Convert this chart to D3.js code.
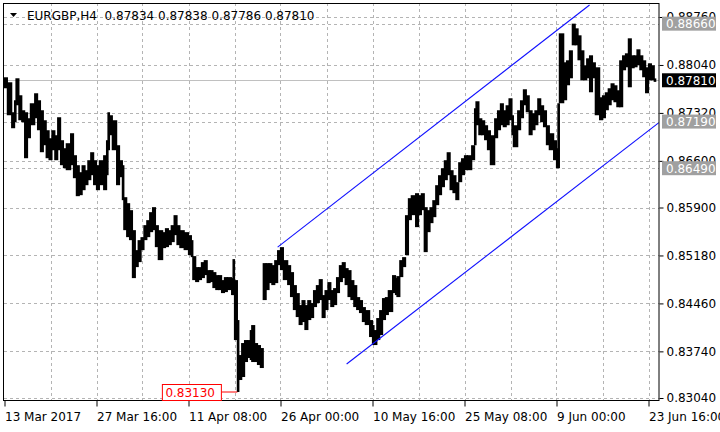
<!DOCTYPE html>
<html>
<head>
<meta charset="utf-8">
<script src="https://cdn.jsdelivr.net/npm/d3@7"></script>
<style>
    body { margin: 0; background: #fff; }
    svg text { font-family: "DejaVu Sans", sans-serif; font-size: 12px; }
</style>
</head>
<body>
<svg id="chart" width="720" height="432"></svg>
<script>
// H4 bars, sampled (bar number counted from 13 Mar 2017 00:00)
var bars = [0,2,5,7,8,10,12,14,16,18,
    21,23,25,27,29,31,33,35,37,39,
    41,43,46,48,50,52,54,56,58,60,
    62,64,66,69,71,72,73,75,78,80,
    82,83,85,87,89,91,93,95,97,99,
    101,103,105,107,110,112,114,116,118,120,
    122,125,128,130,131,133,135,137,139,141,
    143,145,147,149,151,153,155,158,159,160,
    162,163,165,167,169,171,172,174,176,178,
    180,182,184,186,188,190,192,194,197,199,
    201,203,205,207,209,211,213,215,217,219,
    221,223,225,227,229,231,233,235,237,239,
    241,243,245,247,249,251,254,256,257,259,
    261,263,265,267,270,272,273,275,277,279,
    281,283,286,288,290,292,294,296,298,300,
    302,304,306,308,310,312,314,316,318,320,
    322,325,327,328,330,332,334,336,338,341,
    343,345,347,349,351,353,354,357,359,361,
    363,365,367,369,371,373,375,377,379,382,
    384,385,386,389,391,393,395,397,399,401,
    403,405,407,409,411,414,416,418,420,422,
    424,426,428,430,432,434,436,438,440,442,
    444,446,448,450,452];

var highs = [0.87855,0.87780,0.87330,0.87510,0.87840,0.87585,0.87360,0.87330,0.87240,0.87465,
    0.87615,0.87510,0.87360,0.87210,0.87060,0.86940,0.87060,0.86985,0.87255,0.86910,
    0.86790,0.86865,0.87015,0.86685,0.86535,0.86430,0.86535,0.86460,0.86610,0.86730,
    0.86610,0.86535,0.86610,0.86685,0.86910,0.87330,0.87285,0.87210,0.86835,0.86610,
    0.86535,0.86055,0.85965,0.85860,0.85560,0.85260,0.85410,0.85455,0.85635,0.85710,
    0.85830,0.85905,0.85635,0.85560,0.85530,0.85590,0.85560,0.85635,0.85785,0.85635,
    0.85560,0.85530,0.85485,0.85410,0.85170,0.85005,0.85005,0.85080,0.85110,0.84960,
    0.84960,0.84930,0.84885,0.84885,0.84810,0.84855,0.84855,0.84840,0.85125,0.84810,
    0.84210,0.83685,0.83865,0.83910,0.83910,0.84060,0.84135,0.83865,0.83835,0.83790,
    0.85065,0.85065,0.85065,0.85035,0.85110,0.85260,0.85305,0.85110,0.85035,0.84930,
    0.84735,0.84615,0.84435,0.84510,0.84435,0.84510,0.84465,0.84660,0.84735,0.84825,
    0.84585,0.84660,0.84780,0.84660,0.84690,0.84855,0.85035,0.85080,0.84990,0.84960,
    0.84810,0.84735,0.84555,0.84510,0.84405,0.84360,0.84210,0.84135,0.84060,0.84240,
    0.84360,0.84540,0.84555,0.84660,0.84885,0.84840,0.84870,0.85110,0.85155,0.85785,
    0.86040,0.86085,0.86115,0.86085,0.86115,0.85905,0.85860,0.85905,0.86010,0.86235,
    0.86385,0.86490,0.86610,0.86730,0.86460,0.86385,0.86280,0.86580,0.86640,0.86685,
    0.86685,0.86835,0.87390,0.87495,0.87240,0.87210,0.87135,0.87060,0.86985,0.87240,
    0.87360,0.87465,0.87360,0.87435,0.87540,0.87285,0.87135,0.87360,0.87510,0.87675,
    0.87585,0.87360,0.87315,0.87360,0.87540,0.87435,0.87360,0.87135,0.87015,0.86910,
    0.86790,0.87465,0.88515,0.88080,0.88110,0.88260,0.88660,0.88590,0.88485,0.88260,
    0.88035,0.88140,0.88185,0.88080,0.88005,0.87555,0.87585,0.87630,0.87690,0.87765,
    0.87735,0.87660,0.88110,0.88185,0.88215,0.88440,0.88185,0.88185,0.88275,0.88185,
    0.88110,0.88005,0.88065,0.88035,0.87838];

var lows = [0.87690,0.87285,0.87090,0.87180,0.87435,0.87210,0.87180,0.86640,0.86940,0.87135,
    0.87240,0.87060,0.86730,0.86835,0.86640,0.86610,0.86760,0.86610,0.86760,0.86535,
    0.86490,0.86460,0.86535,0.86340,0.86070,0.86085,0.86160,0.86235,0.86310,0.86385,
    0.86235,0.86160,0.86235,0.86160,0.86385,0.86760,0.86985,0.86760,0.86235,0.86355,
    0.86010,0.85560,0.85455,0.85410,0.84840,0.85005,0.85080,0.85260,0.85410,0.85455,
    0.85530,0.85560,0.85305,0.85110,0.85290,0.85305,0.85335,0.85380,0.85485,0.85335,
    0.85290,0.85260,0.85185,0.85155,0.84810,0.84780,0.84810,0.84840,0.84885,0.84765,
    0.84780,0.84690,0.84660,0.84660,0.84615,0.84630,0.84660,0.84585,0.84585,0.83910,
    0.83130,0.83310,0.83355,0.83580,0.83640,0.83610,0.83580,0.83580,0.83535,0.83490,
    0.84510,0.84660,0.84765,0.84735,0.84765,0.85035,0.84960,0.84810,0.84735,0.84555,
    0.84360,0.84255,0.84135,0.84180,0.84060,0.84210,0.84240,0.84405,0.84465,0.84510,
    0.84240,0.84360,0.84510,0.84405,0.84435,0.84615,0.84780,0.84840,0.84735,0.84555,
    0.84510,0.84405,0.84360,0.84315,0.84180,0.84135,0.83955,0.83835,0.83835,0.83910,
    0.83985,0.84210,0.84285,0.84330,0.84615,0.84585,0.84555,0.84855,0.85005,0.85185,
    0.85710,0.85785,0.85605,0.85785,0.85860,0.85230,0.85530,0.85665,0.85755,0.85935,
    0.86085,0.86205,0.86310,0.86385,0.86160,0.86115,0.86010,0.86280,0.86385,0.86460,
    0.86460,0.86610,0.86835,0.87135,0.86985,0.86985,0.86910,0.86760,0.86535,0.86940,
    0.87060,0.87135,0.87105,0.87135,0.87210,0.86985,0.86805,0.87060,0.87240,0.87435,
    0.87330,0.86985,0.87060,0.87135,0.87285,0.87180,0.87105,0.86835,0.86760,0.86610,
    0.86490,0.86490,0.87465,0.87510,0.87735,0.87840,0.88335,0.88335,0.88110,0.87810,
    0.87810,0.87840,0.87630,0.87840,0.87285,0.87210,0.87240,0.87360,0.87435,0.87510,
    0.87480,0.87405,0.87405,0.87960,0.88005,0.87705,0.87990,0.88005,0.88035,0.87960,
    0.87855,0.87615,0.87810,0.87810,0.87786];

var priceTicks = [0.8304, 0.8374, 0.8446, 0.8518, 0.8590, 0.8660, 0.8732, 0.8804, 0.8876];
var timeTicks = [0, 64, 128, 192, 256, 320, 384, 448];
var timeLabels = ["13 Mar 2017", "27 Mar 16:00", "11 Apr 08:00", "26 Apr 00:00",
    "10 May 16:00", "25 May 08:00", "9 Jun 00:00", "23 Jun 16:00"];
var levelPrices = [0.8866, 0.8719, 0.8649];
var lastPrice = 0.8781;
var lowBar = 162, lowPrice = 0.8313;
var upperBars = [190, 407], upperPrices = [0.85305, 0.8894];
var lowerBars = [238, 455], lowerPrices = [0.8355, 0.8717];
var ohlc = [0.87834, 0.87838, 0.87786, 0.87810];

// plot box edges
var boxLeft = 4, boxTop = 3, boxRight = 659, boxBottom = 400;
var fmt = d3.format(".5f");

var svg = d3.select("#chart");

var xScale = d3.scaleLinear().domain([0, 448]).range([4.5, 648.5]);
var yScale = d3.scaleLinear().domain([0.8304, 0.8876]).range([398, 17]);

svg.append("defs").append("clipPath").attr("id", "plot")
    .append("rect")
    .attr("x", boxLeft).attr("y", boxTop)
    .attr("width", boxRight - boxLeft).attr("height", boxBottom - boxTop);

// grid
var grid = svg.append("g").attr("stroke", "#b4b4b4").attr("stroke-dasharray", "3,3");
grid.selectAll(".h").data(priceTicks.concat(levelPrices)).enter().append("line")
    .attr("x1", boxLeft).attr("x2", boxRight)
    .attr("y1", function(d) { return Math.round(yScale(d)) + 0.5; })
    .attr("y2", function(d) { return Math.round(yScale(d)) + 0.5; });
grid.selectAll(".v").data(d3.range(32, 449, 32)).enter().append("line")
    .attr("y1", boxTop).attr("y2", boxBottom)
    .attr("x1", function(d) { return Math.round(xScale(d)) + 0.5; })
    .attr("x2", function(d) { return Math.round(xScale(d)) + 0.5; });

// current price line
svg.append("line")
    .attr("x1", boxLeft).attr("x2", boxRight)
    .attr("y1", Math.round(yScale(lastPrice)) + 0.5)
    .attr("y2", Math.round(yScale(lastPrice)) + 0.5)
    .attr("stroke", "#c0c0c0");

// price bars
var plot = svg.append("g").attr("clip-path", "url(#plot)");
plot.selectAll("rect.bar").data(bars).enter().append("rect")
    .attr("class", "bar")
    .attr("x", function(d) { return xScale(d) - 0.6; })
    .attr("width", function(d, i) {
        var next = i < bars.length - 1 ? bars[i + 1] : d + 1;
        return xScale(next) - xScale(d) + 1.2;
    })
    .attr("y", function(d, i) { return yScale(highs[i]); })
    .attr("height", function(d, i) { return Math.max(1.5, yScale(lows[i]) - yScale(highs[i])); })
    .attr("fill", "#000");

// channel
[[upperBars, upperPrices], [lowerBars, lowerPrices]].forEach(function(c) {
    plot.append("line")
        .attr("x1", xScale(c[0][0])).attr("y1", yScale(c[1][0]))
        .attr("x2", xScale(c[0][1])).attr("y2", yScale(c[1][1]))
        .attr("stroke", "#1010ff").attr("stroke-width", 1.1);
});

// frame
svg.append("rect")
    .attr("x", boxLeft - 0.5).attr("y", boxTop + 0.5)
    .attr("width", boxRight - boxLeft + 0.5).attr("height", boxBottom - boxTop)
    .attr("fill", "none").attr("stroke", "#000");

// axes
var yAxis = d3.axisRight(yScale).tickValues(priceTicks).tickFormat(fmt).tickSize(4).tickPadding(3);
var yG = svg.append("g").attr("transform", "translate(" + (boxRight + 0.5) + ",0)").call(yAxis);
yG.select(".domain").remove();
yG.selectAll("text").attr("fill", "#000").style("font-size", "12px").style("font-family", "DejaVu Sans");

var xAxis = d3.axisBottom(xScale).tickValues(timeTicks)
    .tickFormat(function(d, i) { return timeLabels[i]; }).tickSize(6).tickPadding(6);
var xG = svg.append("g").attr("transform", "translate(0," + (boxBottom + 0.5) + ")").call(xAxis);
xG.select(".domain").remove();
xG.selectAll("text").attr("text-anchor", "start").attr("fill", "#000")
    .style("font-size", "12px").style("font-family", "DejaVu Sans");

// price labels on the right
var labels = levelPrices.map(function(p) { return { p: p, fill: "#a0a0a0" }; });
labels.push({ p: lastPrice, fill: "#000" });
var lab = svg.selectAll("g.lab").data(labels).enter().append("g")
    .attr("transform", function(d) { return "translate(662," + yScale(d.p) + ")"; });
lab.append("rect").attr("x", 0).attr("y", -7).attr("width", 54).attr("height", 14)
    .attr("fill", function(d) { return d.fill; });
lab.append("text").attr("x", 4).attr("y", 4.5).attr("fill", "#fff")
    .text(function(d) { return fmt(d.p); });

// low marker
var lx = xScale(lowBar), ly = yScale(lowPrice);
svg.append("line").attr("x1", lx - 16).attr("x2", lx).attr("y1", ly).attr("y2", ly)
    .attr("stroke", "#ff0000");
svg.append("rect").attr("x", lx - 75).attr("y", ly - 7.5).attr("width", 59).attr("height", 16)
    .attr("fill", "#fff").attr("stroke", "#ff0000");
svg.append("text").attr("x", lx - 72).attr("y", ly + 5).attr("fill", "#ff0000")
    .text(fmt(lowPrice));

// title
svg.append("path").attr("d", "M10,13L17,13L13.5,17Z").attr("fill", "#000");
svg.append("text").attr("x", 27).attr("y", 19.5).attr("fill", "#000")
    .style("white-space", "pre")
    .text("EURGBP,H4  " + ohlc.map(fmt).join(" "));
</script>
</body>
</html>
